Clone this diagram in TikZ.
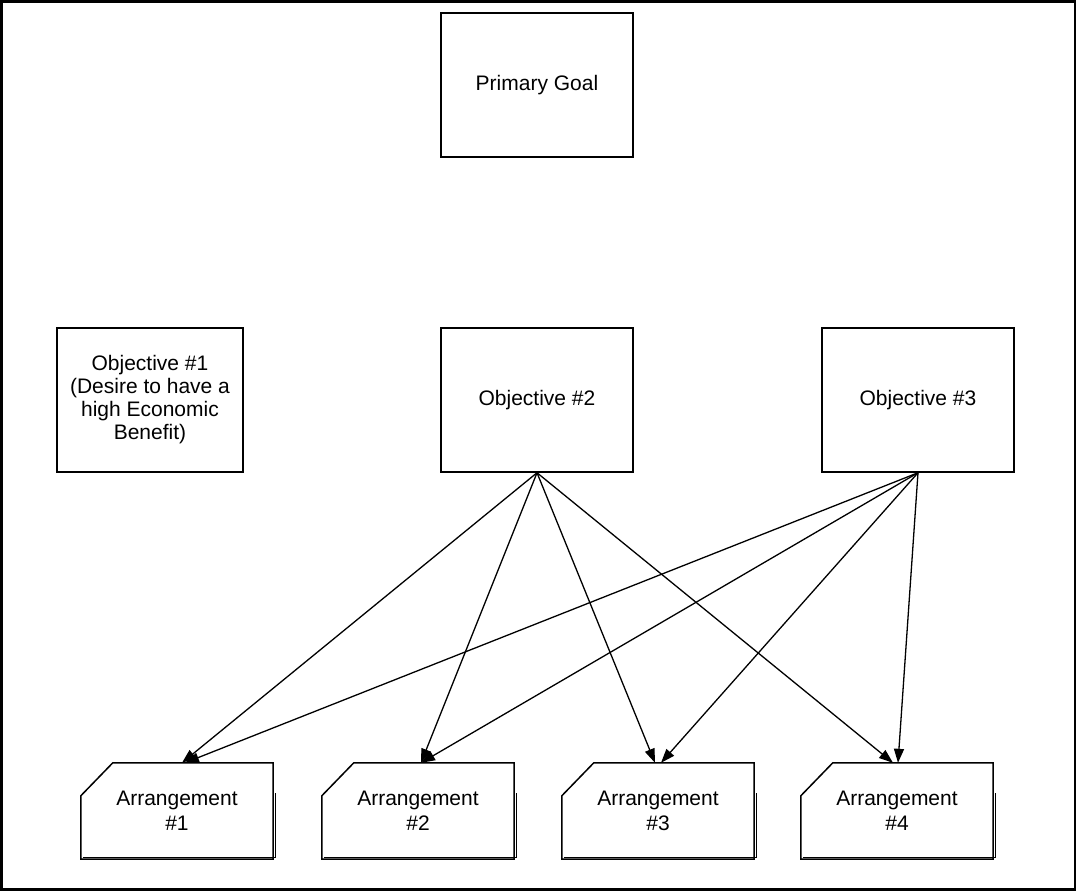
\documentclass[tikz,border=0pt]{standalone}
\usepackage{fontspec}
\setmainfont{Liberation Sans}
\usetikzlibrary{arrows.meta}
\begin{document}
\begin{tikzpicture}[x=1pt,y=-1pt,
  box/.style={draw, line width=1.5pt, minimum width=192pt, minimum height=144pt, inner sep=0pt, align=center, font=\fontsize{21}{23}\selectfont},
  arrbox/.style={draw=none, minimum width=192pt, minimum height=96pt, inner sep=0pt, align=center, font=\fontsize{21}{25}\selectfont},
  link/.style={line width=1.3pt, -{Triangle[length=14pt,width=10pt]}}]
\useasboundingbox (0,0) rectangle (1077,892);
\draw[line width=2.6pt] (1.5,1.5) rectangle (1075,889.5);
\node[box] (pg) at (537,85) {Primary Goal};
\node[box, minimum width=186pt] (o1) at (150,400) {Objective \#1\\(Desire to have a\\high Economic\\Benefit)};
\node[box] (o2) at (537,400) {Objective \#2};
\node[box] (o3) at (918,400) {Objective \#3};
\node[arrbox] (a1) at (177,811) {Arrangement\\\#1};
\node[arrbox] (a2) at (418,811) {Arrangement\\\#2};
\node[arrbox] (a3) at (658,811) {Arrangement\\\#3};
\node[arrbox] (a4) at (897,811) {Arrangement\\\#4};
\foreach \a in {a1,a2,a3,a4}{
  \draw[line width=1.5pt, line join=miter]
    ([yshift=-33pt]\a.north west) -- ([xshift=32pt]\a.north west) -- (\a.north east) -- (\a.south east) -- (\a.south west) -- cycle;
  \draw[line width=0.8pt] ([xshift=2pt,yshift=2pt]\a.south west) -- ([xshift=2pt,yshift=2pt]\a.south east) -- ([xshift=2pt,yshift=-30pt]\a.north east);
}
\draw[link] (o2.south) -- ([xshift=5pt]a1.north);
\draw[link] (o2.south) -- ([xshift=3pt]a2.north);
\draw[link] (o2.south) -- ([xshift=-3pt]a3.north);
\draw[link] (o2.south) -- ([xshift=-4pt]a4.north);
\draw[link] (o3.south) -- ([xshift=8pt]a1.north);
\draw[link] (o3.south) -- ([xshift=3pt]a2.north);
\draw[link] (o3.south) -- ([xshift=3pt]a3.north);
\draw[link] (o3.south) -- ([xshift=1pt]a4.north);
\end{tikzpicture}
\end{document}
